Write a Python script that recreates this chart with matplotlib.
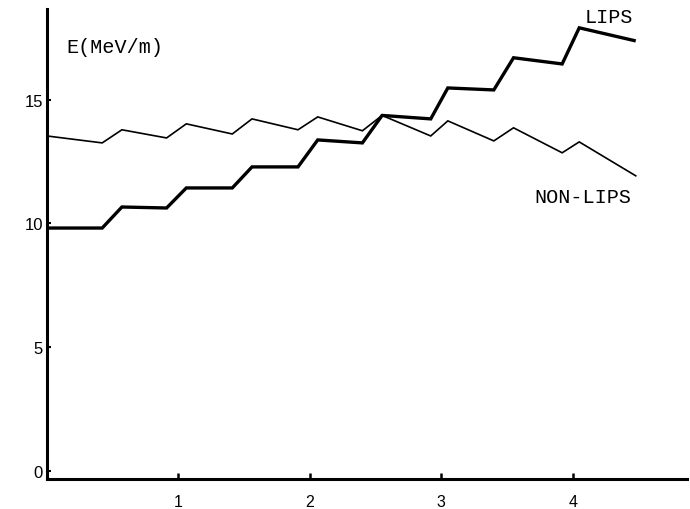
import matplotlib
matplotlib.use("Agg")
import matplotlib.pyplot as plt

# Data (x in m, E in MeV/m)
x_pts = [0.0, 0.42, 0.57, 0.91, 1.06, 1.41, 1.56, 1.91, 2.06, 2.40,
         2.55, 2.92, 3.05, 3.40, 3.55, 3.92, 4.05, 4.48]
lips = [9.81, 9.81, 10.66, 10.62, 11.43, 11.43, 12.28, 12.28, 13.37, 13.25,
        14.36, 14.22, 15.47, 15.39, 16.69, 16.44, 17.90, 17.37]
non_lips = [13.53, 13.25, 13.78, 13.45, 14.02, 13.61, 14.22, 13.78, 14.30, 13.74,
            14.36, 13.53, 14.14, 13.33, 13.86, 12.85, 13.29, 11.92]

x_ticks = [1, 2, 3, 4]
y_ticks = [0, 5, 10, 15]
series_labels = ["LIPS", "NON-LIPS"]
y_label = "E(MeV/m)"

fig = plt.figure(figsize=(6.9, 5.1), dpi=100)
ax = fig.add_axes([47 / 690, 1 - 480 / 510, (687 - 47) / 690, (480 - 10) / 510])

ax.plot(x_pts, lips, color="black", lw=2.4, solid_joinstyle="miter", solid_capstyle="butt")
ax.plot(x_pts, non_lips, color="black", lw=1.2, solid_joinstyle="miter")

ax.set_xlim(0, 4.87)
ax.set_ylim(-0.33, 18.66)

for s in ["top", "right"]:
    ax.spines[s].set_visible(False)
for s in ["left", "bottom"]:
    ax.spines[s].set_linewidth(2.2)
    ax.spines[s].set_color("black")

ax.set_xticks(x_ticks)
ax.set_yticks(y_ticks)
ax.set_xticklabels([str(v) for v in x_ticks], fontfamily="Liberation Sans", fontsize=11.5)
ax.set_yticklabels([str(v) for v in y_ticks], fontfamily="Liberation Sans", fontsize=12)
ax.tick_params(axis="x", direction="in", length=4, width=1.8, pad=11)
ax.tick_params(axis="y", direction="in", length=3, width=1.5, pad=3)

mono = "Liberation Mono"
ax.text(0.147, 17.13, y_label, fontfamily=mono, fontsize=14.5, va="center", ha="left")
ax.text(4.09, 18.36, series_labels[0], fontfamily=mono, fontsize=14.5, va="center", ha="left")
ax.text(3.71, 11.07, series_labels[1], fontfamily=mono, fontsize=14.5, va="center", ha="left")

fig.savefig("out.png", dpi=100, facecolor="white")
